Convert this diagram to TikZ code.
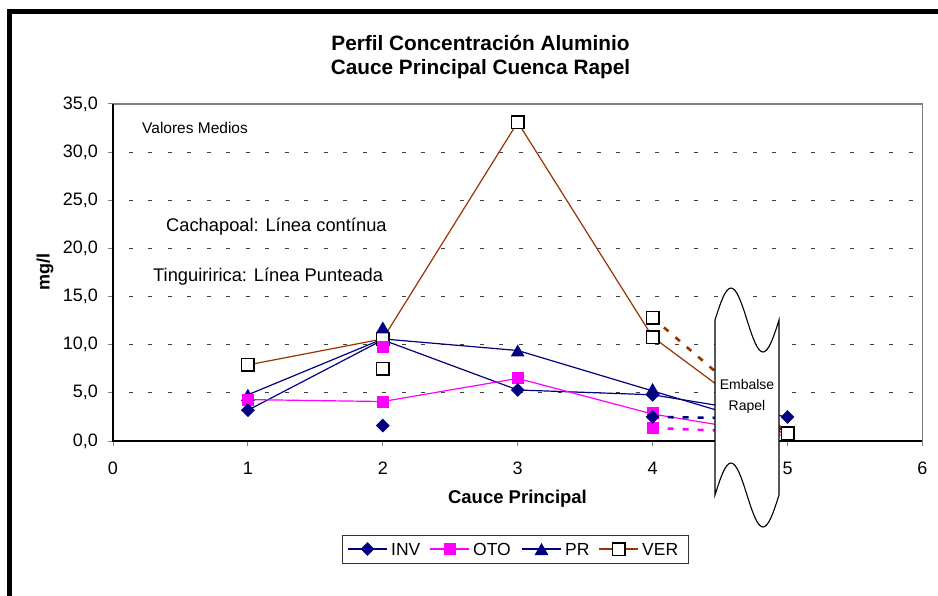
\documentclass[tikz,border=0pt]{standalone}
\usepackage{fontspec}
\setmainfont{Liberation Sans}
\usetikzlibrary{shapes.geometric}
\definecolor{navy}{RGB}{0,0,128}
\definecolor{mag}{RGB}{255,0,255}
\definecolor{brick}{RGB}{153,51,0}
\definecolor{border}{RGB}{128,128,128}

\begin{document}
\begin{tikzpicture}[x=1pt, y=-1pt,
    inv/.style={diamond, fill=navy, inner sep=0pt, minimum size=14pt},
    oto/.style={rectangle, fill=mag, inner sep=0pt, minimum size=12pt},
    pr/.style={regular polygon, regular polygon sides=3, fill=navy,
      inner sep=0pt, minimum size=16pt, yshift=-2pt},
    ver/.style={rectangle, draw=black, fill=white, line width=1.5pt,
      inner sep=0pt, minimum size=12.5pt},
    serie/.style={line width=1.2pt},
    punteada/.style={line width=2.6pt, dash pattern=on 6pt off 9pt},
    gridline/.style={black!75, line width=0.8pt,
      dash pattern=on 4pt off 15.5pt, dash phase=4pt},
    txt/.style={inner sep=0pt, font=\fontsize{#1}{#1}\selectfont}]

  \useasboundingbox (0,0) rectangle (938,595);
  \draw[line width=5pt] (9.5,600) -- (9.5,11) -- (945,11);

  \node[align=center, inner sep=0pt, font=\fontsize{20.8}{24}\selectfont\bfseries]
    (title) at (480.5,57) {Perfil Concentración Aluminio\\Cauce Principal Cuenca Rapel};
  \node[rotate=90, inner sep=0pt, font=\fontsize{18}{18}\selectfont\bfseries]
    (mgl) at (45,272) {mg/l};
  \node[inner sep=0pt, font=\fontsize{18.5}{18}\selectfont\bfseries]
    (cauce) at (517.5,499) {Cauce Principal};

  % plot area, in data units
  \begin{scope}[shift={(113,441)}, x=134.9pt, y=9.63pt]
    \foreach \v in {5,10,...,30} \draw[gridline] (0,\v) -- (6,\v);
    \draw[border, line width=1.2pt] (0,35) -- (6,35) -- (6,0);
    \foreach \v in {0,5,...,35} {
      \draw[border, line width=1pt] (0,\v) -- ++(-5pt,0pt);
      \node[txt=18, anchor=east] (yt\v) at ([xshift=-15pt]0,\v) {\v,0};
    }
    \foreach \u in {0,...,6} {
      \draw[border, line width=1pt] (\u,0) -- ++(0pt,-5pt);
      \node[txt=18] (xt\u) at ([yshift=-27pt]\u,0) {\u};
    }
    \draw[line width=1.6pt] (0,35) -- (0,0) -- (6,0);

    % Cachapoal
    \draw[serie, navy] (1,3.2) -- (2,10.5) -- (3,5.3) -- (4,4.8) -- (5,2.5);
    \draw[serie, mag] (1,4.3) -- (2,4.1) -- (3,6.5) -- (4,2.8) -- (5,0.5);
    \draw[serie, navy] (1,4.8) -- (2,10.6) -- (3,9.4) -- (4,5.2) -- (5,1.0);
    \draw[serie, brick] (1,7.9) -- (2,10.6) -- (3,33.1) -- (4,10.8) -- (5,0.4);
    % Tinguiririca
    \draw[punteada, navy] (4,2.5) -- (5,2.3);
    \draw[punteada, mag] (4,1.35) -- (5,0.8);
    \draw[punteada, brick] (4,12.8) -- (5,0.8);

    \foreach \u/\v [count=\k] in {1/7.9, 2/10.6, 2/7.5, 3/33.1, 4/10.8, 4/12.8, 5/0.8}
      \node[ver] (ver\k) at (\u,\v) {};
    \foreach \u/\v [count=\k] in {1/4.8, 2/11.8, 3/9.4, 4/5.4}
      \node[pr] (pr\k) at (\u,\v) {};
    \foreach \u/\v [count=\k] in {1/4.3, 2/9.8, 2/4.1, 3/6.5, 4/2.9, 4/1.35}
      \node[oto] (oto\k) at (\u,\v) {};
    \foreach \u/\v [count=\k] in {1/3.2, 2/1.6, 3/5.3, 4/4.8, 4/2.5, 5/2.5}
      \node[inv] (inv\k) at (\u,\v) {};
  \end{scope}

  \node[txt=15.5, anchor=west] (medios) at (142,128) {Valores Medios};
  \node[txt=18.3, anchor=west] (cachapoal) at (166,227) {Cachapoal: Línea contínua};
  \node[txt=18.3, anchor=west] (tinguiririca) at (153,277) {Tinguiririca: Línea Punteada};

  % embalse
  \draw[fill=white, line width=1.1pt] (715,320) sin (731,288) cos (747,320)
    sin (763,352) cos (779,320) -- (779,495) sin (763,527) cos (747,495)
    sin (731,463) cos (715,495) -- cycle;
  \node[align=center, inner sep=0pt, font=\fontsize{14}{21}\selectfont]
    (embalse) at (747,396) {Embalse\\Rapel};

  % legend
  \draw[black!80, line width=1pt] (342,535) rectangle (688,563);
  \foreach \s/\c/\x/\t [count=\k] in {inv/navy/348/INV, oto/mag/430/OTO,
      pr/navy/522/PR, ver/brick/599/VER} {
    \draw[serie, \c] (\x,549) -- ++(39,0);
    \node[\s] (lgm\k) at (\x+19.5,549) {};
    \node[txt=17.5, anchor=west] (lgt\k) at (\x+43,549) {\t};
  }
\end{tikzpicture}
\end{document}
